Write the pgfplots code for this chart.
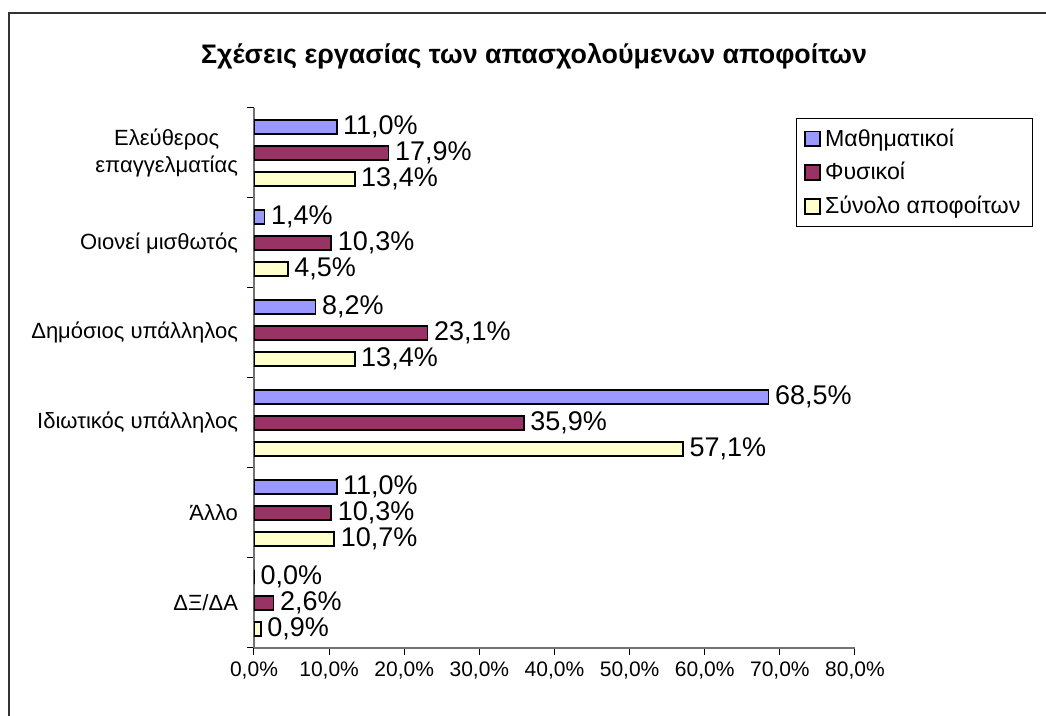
\documentclass[border=0pt]{standalone}
\usepackage{fontspec}
\setmainfont{Liberation Sans}
\usepackage{pgfplots}
\pgfplotsset{compat=1.18}

\definecolor{mathc}{HTML}{9999FF}
\definecolor{physc}{HTML}{993366}
\definecolor{allc}{HTML}{FFFFCC}

\newcommand{\pct}[1]{\pgfmathprintnumber[fixed,fixed zerofill,precision=1,use comma]{#1}\%}

\begin{document}
\begin{tikzpicture}
\useasboundingbox (0,0) rectangle (523pt,358pt);
\draw[line width=0.6pt, black!80] (4.5pt,0) -- (4.5pt,351.5pt) -- (523pt,351.5pt);
\node[font=\bfseries\fontsize{13.4}{15}\selectfont] at (267pt,330pt)
  {Σχέσεις εργασίας των απασχολούμενων αποφοίτων};

\begin{axis}[
    at={(127pt,34pt)}, anchor=south west,
    scale only axis,
    width=300.5pt, height=270pt,
    xbar,
    bar width=7.2pt,
    xmin=0, xmax=80,
    ymin=-0.5, ymax=5.5,
    enlargelimits=false,
    axis x line=bottom,
    axis y line=left,
    axis line style={-, black!55, line width=0.6pt},
    tick style={black, line width=0.5pt},
    tick align=outside,
    major tick length=3.5pt,
    /pgf/number format/assume math mode=true,
    xtick={0,10,...,80},
    xticklabel={\pct{\tick}},
    xticklabel style={font=\fontsize{10.5}{12}\selectfont},
    ytick={-0.5,0.5,...,5.5},
    yticklabels={},
    extra y ticks={0,1,2,3,4,5},
    extra y tick labels={ΔΞ/ΔΑ, Άλλο, Ιδιωτικός υπάλληλος, Δημόσιος υπάλληλος, Οιονεί μισθωτός, {Ελεύθερος\\επαγγελματίας}},
    extra y tick style={major tick length=0pt, tick style={draw=none}},
    yticklabel style={align=center, font=\fontsize{11}{13.5}\selectfont, xshift=-4.5pt},
    nodes near coords={\pct{\pgfplotspointmeta}},
    nodes near coords align={horizontal},
    every node near coord/.append style={font=\fontsize{13.5}{15}\selectfont, black, anchor=west, xshift=-0.5pt},
    legend image code/.code={\draw[#1, draw=black, line width=0.9pt] (0pt,-3.7pt) rectangle (7.4pt,3.7pt);},
    legend style={at={(1.296,0.981)}, anchor=north east, draw=black, line width=0.5pt,
        font=\fontsize{11.6}{13.5}\selectfont, row sep=2.6pt, inner xsep=4pt, inner ysep=3pt},
    legend cell align=left,
]
\addplot[fill=mathc, draw=black, line width=0.9pt, bar shift=13pt] coordinates {
    (11.0,5) (1.4,4) (8.2,3) (68.5,2) (11.0,1) (0.0,0)
};
\addplot[fill=physc, draw=black, line width=0.9pt, bar shift=0pt] coordinates {
    (17.9,5) (10.3,4) (23.1,3) (35.9,2) (10.3,1) (2.6,0)
};
\addplot[fill=allc, draw=black, line width=0.9pt, bar shift=-13pt] coordinates {
    (13.4,5) (4.5,4) (13.4,3) (57.1,2) (10.7,1) (0.9,0)
};
\legend{Μαθηματικοί, Φυσικοί, Σύνολο αποφοίτων}
\end{axis}
\end{tikzpicture}
\end{document}
